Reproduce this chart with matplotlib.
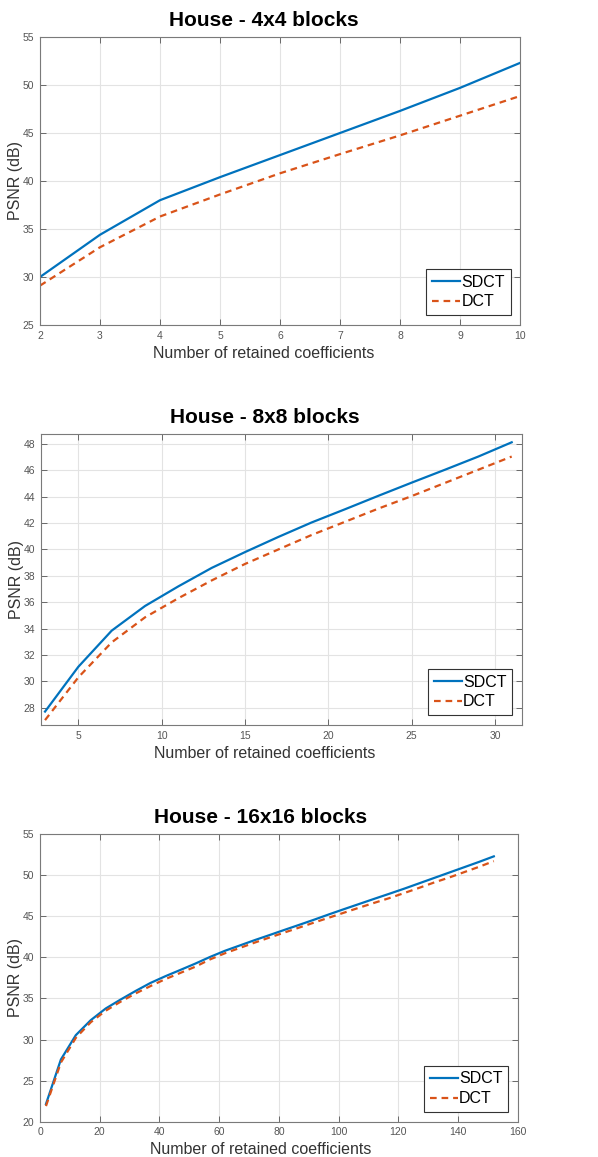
import matplotlib.pyplot as plt

plt.rcParams['font.family'] = ['Liberation Sans', 'DejaVu Sans']

# PSNR vs number of retained coefficients, house image
n_4x4 = [2, 3, 4, 5, 6, 7, 8, 9, 10]
sdct_4x4 = [30.0, 34.4, 38.0, 40.4, 42.7, 45.0, 47.3, 49.7, 52.3]
dct_4x4 = [29.1, 33.1, 36.3, 38.6, 40.8, 42.8, 44.75, 46.8, 48.85]

n_8x8 = [3, 5, 7, 9, 11, 13, 15, 17, 19, 21, 23, 25, 27, 29, 31]
sdct_8x8 = [27.7, 31.1, 33.84, 35.71, 37.2, 38.6, 39.8, 40.95, 42.05,
            43.05, 44.07, 45.07, 46.05, 47.05, 48.13]
dct_8x8 = [27.05, 30.3, 32.95, 34.85, 36.3, 37.65, 38.9, 40.0, 41.1,
           42.1, 43.1, 44.05, 45.05, 46.05, 47.05]

n_16x16 = [2, 7, 12, 17, 22, 27, 32, 37, 42, 47, 52, 57, 62, 67, 72, 77,
           82, 87, 92, 97, 102, 107, 112, 117, 122, 127, 132, 137, 142,
           147, 152]
sdct_16x16 = [22.15, 27.57, 30.53, 32.35, 33.77, 34.86, 35.9, 36.88, 37.7,
              38.46, 39.23, 40.05, 40.8, 41.45, 42.1, 42.72, 43.35, 43.97,
              44.6, 45.25, 45.88, 46.5, 47.12, 47.73, 48.35, 49.0, 49.65,
              50.3, 50.95, 51.6, 52.28]
dct_16x16 = [21.9, 27.2, 30.2, 32.1, 33.5, 34.6, 35.6, 36.5, 37.35, 38.1,
             38.85, 39.75, 40.5, 41.15, 41.8, 42.42, 43.03, 43.64, 44.25,
             44.85, 45.45, 46.05, 46.63, 47.2, 47.82, 48.45, 49.1, 49.7,
             50.35, 51.0, 51.7]

W, H = 598, 1157
fig = plt.figure(figsize=(W / 100, H / 100), dpi=100)

panels = [
    # title, x, sdct, dct, (left, right, top, bottom) px, text centre px, xlim, ylim, xticks, yticks
    ('House - 4x4 blocks', n_4x4, sdct_4x4, dct_4x4, (40, 520, 37, 325), 264,
     (2, 10), (25, 55), range(2, 11), range(25, 56, 5)),
    ('House - 8x8 blocks', n_8x8, sdct_8x8, dct_8x8, (40.7, 521.7, 434, 725), 265,
     (2.74, 31.6), (26.68, 48.76), range(5, 31, 5), range(28, 49, 2)),
    ('House - 16x16 blocks', n_16x16, sdct_16x16, dct_16x16, (40, 517.7, 834, 1121.7), 261,
     (0, 160), (20, 55), range(0, 161, 20), range(20, 56, 5)),
]

for title, x, sdct, dct, (l, r, t, b), cx, xlim, ylim, xt, yt in panels:
    ax = fig.add_axes([l / W, 1 - b / H, (r - l) / W, (b - t) / H])
    ax.plot(x, sdct, color='#0072BD', lw=1.6, label='SDCT')
    ax.plot(x, dct, color='#D95319', lw=1.6, ls=(0, (3, 2.2)), label='DCT')
    ax.set_xlim(*xlim)
    ax.set_ylim(*ylim)
    ax.set_xticks(list(xt))
    ax.set_yticks(list(yt))
    ax.grid(True, color='#e3e3e3', lw=0.8)
    ax.set_axisbelow(True)
    ax.tick_params(direction='in', top=True, right=True, length=4, width=0.6,
                   labelsize=7.5, colors='#555555', pad=4)
    for s in ax.spines.values():
        s.set_color('#7a7a7a')
        s.set_linewidth(0.8)
    fx = (cx - l) / (r - l)
    ax.set_title(title, fontsize=15, fontweight='bold', pad=8, x=fx)
    ax.set_xlabel('Number of retained coefficients', fontsize=11.5, color='#333333')
    ax.set_ylabel('PSNR (dB)', fontsize=11.5, color='#333333')
    ax.xaxis.set_label_coords(fx, -28 / (b - t))
    ax.yaxis.set_label_coords(-24 / (r - l), 0.5)
    ax.xaxis.label.set_va('center')
    ax.yaxis.label.set_va('center')
    anchor = ((r - l - 9.5) / (r - l), 10 / (b - t))
    leg = ax.legend(loc='lower right', bbox_to_anchor=anchor, borderaxespad=0,
                    fontsize=11.5, handlelength=1.75, handletextpad=0.1,
                    borderpad=0.35, labelspacing=0.3, fancybox=False,
                    framealpha=1)
    leg.get_frame().set_edgecolor('#333333')
    leg.get_frame().set_linewidth(0.8)

fig.savefig('out.png', dpi=100)
